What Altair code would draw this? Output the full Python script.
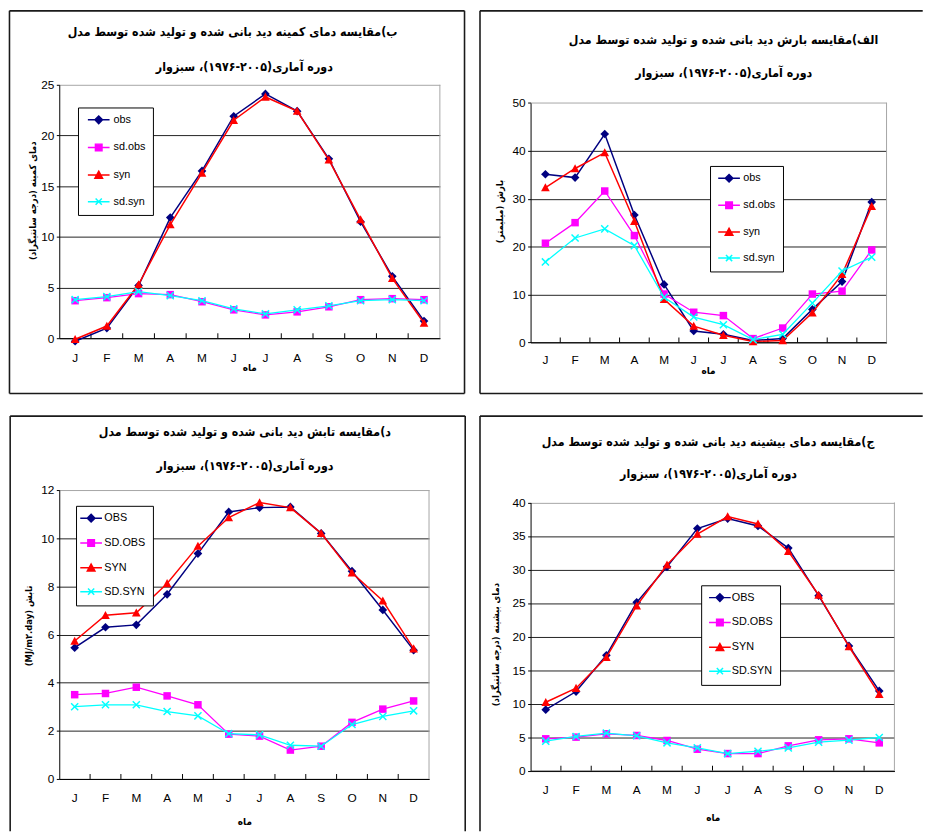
import altair as alt
import pandas as pd

# ---------------- data ----------------
MONTHS = list(range(1, 13))
MONTH_LABELS = ["J", "F", "M", "A", "M", "J", "J", "A", "S", "O", "N", "D"]

SERIES_LC = ["obs", "sd.obs", "syn", "sd.syn"]
SERIES_UC = ["OBS", "SD.OBS", "SYN", "SD.SYN"]

# ب) minimum temperature
TMIN_OBS = [-0.3, 1.0, 5.2, 11.9, 16.5, 21.9, 24.1, 22.4, 17.7, 11.5, 6.1, 1.7]
TMIN_SD_OBS = [3.7, 4.0, 4.4, 4.3, 3.6, 2.8, 2.3, 2.6, 3.1, 3.8, 3.9, 3.8]
TMIN_SYN = [-0.1, 1.2, 5.3, 11.2, 16.3, 21.5, 23.8, 22.4, 17.6, 11.7, 5.9, 1.5]
TMIN_SD_SYN = [3.8, 4.1, 4.6, 4.2, 3.7, 2.9, 2.4, 2.8, 3.2, 3.7, 3.8, 3.7]

# الف) precipitation
PREC_OBS = [35.1, 34.4, 43.5, 26.6, 12.1, 2.4, 1.7, 0.4, 0.8, 6.9, 12.7, 29.3]
PREC_SD_OBS = [20.7, 25.0, 31.6, 22.3, 10.1, 6.3, 5.6, 0.8, 3.0, 10.1, 10.7, 19.3]
PREC_SYN = [32.3, 36.3, 39.6, 25.3, 9.0, 3.4, 1.5, 0.2, 0.4, 6.2, 14.2, 28.4]
PREC_SD_SYN = [16.8, 21.8, 23.7, 20.2, 9.4, 5.3, 3.7, 0.6, 1.7, 8.2, 14.9, 17.8]

# د) radiation
RAD_OBS = [5.45, 6.3, 6.4, 7.67, 9.36, 11.09, 11.27, 11.3, 10.2, 8.63, 7.02, 5.35]
RAD_SD_OBS = [3.5, 3.55, 3.81, 3.45, 3.08, 1.86, 1.78, 1.2, 1.36, 2.35, 2.9, 3.24]
RAD_SYN = [5.73, 6.8, 6.9, 8.12, 9.67, 10.86, 11.48, 11.27, 10.2, 8.56, 7.4, 5.41]
RAD_SD_SYN = [3.0, 3.08, 3.08, 2.8, 2.62, 1.88, 1.83, 1.4, 1.36, 2.26, 2.6, 2.83]

# ج) maximum temperature
TMAX_OBS = [9.1, 11.8, 17.2, 25.1, 30.4, 36.1, 37.6, 36.5, 33.2, 26.1, 18.6, 11.9]
TMAX_SD_OBS = [4.75, 5.0, 5.5, 5.25, 4.5, 3.2, 2.55, 2.55, 3.7, 4.6, 4.75, 4.15]
TMAX_SYN = [10.2, 12.3, 16.9, 24.6, 30.7, 35.3, 37.9, 36.8, 32.7, 26.2, 18.5, 11.4]
TMAX_SD_SYN = [4.4, 5.1, 5.6, 5.2, 4.15, 3.4, 2.55, 2.9, 3.4, 4.25, 4.55, 4.95]

TITLE_B = ["ب)مقایسه دمای کمینه دید بانی شده و تولید شده توسط مدل", "دوره آماری(۲۰۰۵-۱۹۷۶)، سبزوار"]
TITLE_ALEF = ["الف)مقایسه بارش دید بانی شده و تولید شده توسط مدل", "دوره آماری(۲۰۰۵-۱۹۷۶)، سبزوار"]
TITLE_D = ["د)مقایسه تابش دید بانی شده و تولید شده توسط مدل", "دوره آماری(۲۰۰۵-۱۹۷۶)، سبزوار"]
TITLE_J = ["ج)مقایسه دمای بیشینه دید بانی شده و تولید شده توسط مدل", "دوره آماری(۲۰۰۵-۱۹۷۶)، سبزوار"]

YTITLE_B = "دمای کمینه (درجه سانتیگراد)\u200f"
YTITLE_ALEF = "بارش (میلیمتر)\u200f"
YTITLE_D = "(MJ/m۲.day) تابش"
YTITLE_J = "دمای بیشینه (درجه سانتیگراد)\u200f"
XTITLE = "ماه"

# ---------------- style ----------------
COLORS = ["#000080", "#FF00FF", "#FF0000", "#00FFFF"]
NARROW = "Liberation Sans Narrow, Arial Narrow, Liberation Sans, Arial, sans-serif"
FA = "DejaVu Sans Condensed, DejaVu Sans"
FRAME_C = "#1a1a1a"
BORDER_C = "#a6a6a6"


def diamond(cx, k=1.1):
    return f"M{cx:.3f},{-k}L{cx + k:.3f},0L{cx:.3f},{k}L{cx - k:.3f},0Z"


def square(cx, k=0.95):
    return f"M{cx - k:.3f},{-k}L{cx + k:.3f},{-k}L{cx + k:.3f},{k}L{cx - k:.3f},{k}Z"


def triangle(cx, k=1.1):
    return f"M{cx:.3f},{-k}L{cx + k:.3f},{k * 0.85:.3f}L{cx - k:.3f},{k * 0.85:.3f}Z"


def xmark(cx, k=0.9):
    return f"M{cx - k:.3f},{-k}L{cx + k:.3f},{k}M{cx - k:.3f},{k}L{cx + k:.3f},{-k}"


MARKERS = [diamond, square, triangle, xmark]


def legend_paths(shift_px, r=3.5, half_len_px=11.0):
    s = shift_px / r
    h = half_len_px / r
    line = f"M{s - h:.3f},0L{s + h:.3f},0"
    return [line + fn(s) for fn in MARKERS]


ONE = pd.DataFrame({"k": [0]})


def rule(x1, y1, x2, y2, color=FRAME_C, width=1.6):
    return alt.Chart(ONE).mark_rule(color=color, strokeWidth=width).encode(
        x=alt.value(x1), x2=alt.value(x2), y=alt.value(y1), y2=alt.value(y2)
    )


def make_panel(p):
    W, H, e = p["W"], p["H"], p["ext"]  # e: extra space above the plot inside the view
    labels = p["labels"]
    ymax, ystep = p["ymax"], p["ystep"]

    xscale = alt.Scale(type="band", domain=MONTHS, paddingInner=0, paddingOuter=0)
    xaxis = alt.Axis(
        title=XTITLE, titleFont=FA, titleFontWeight="bold", titleFontSize=10,
        titleX=p["xt"][0], titleY=p["xt"][1], titleBaseline="middle", titleAlign="center",
        titleColor="black",
        labelExpr=f"{MONTH_LABELS}[datum.value - 1]", labelAngle=0,
        labelFont=NARROW, labelFontSize=12, labelColor="black", labelPadding=p["xlp"],
        ticks=False, tickSize=0, domainColor="black", domainWidth=1, grid=False,
    )
    yaxis = alt.Axis(
        title=p["ytitle"], titleFont=FA, titleFontWeight="bold", titleFontSize=9.5,
        titleX=p["yt"][0], titleY=p["yt"][1] + e, titleBaseline="middle", titleAlign="center",
        titleAngle=270, titleColor="black",
        values=list(range(0, ymax + 1, ystep)),
        labelFont=NARROW, labelFontSize=12, labelColor="black", labelPadding=2.5,
        tickSize=3, tickColor="black", domainColor="black", domainWidth=1,
        grid=True, gridWidth=1,
        gridColor={"condition": {"test": f"datum.value == {ymax}", "value": BORDER_C}, "value": "#222222"},
    )
    X = alt.X("m:O", scale=xscale, axis=xaxis)
    Xb = alt.X("m:O", scale=xscale, axis=xaxis, bandPosition=0)
    Y = alt.Y("v:Q", scale=alt.Scale(domain=[0, ymax], nice=False, zero=True, range=[H + e, e]), axis=yaxis)

    layers = []
    for (x1, y1, x2, y2) in p["frame"]:
        layers.append(rule(x1, y1 + e, x2, y2 + e))
    # plot-area border on the right side
    layers.append(rule(W, e, W, H + e, color=BORDER_C, width=1))
    for line_text, (cx, cy) in zip(p["titles"], p["tpos"]):
        layers.append(
            alt.Chart(pd.DataFrame({"t": [line_text]})).mark_text(
                font=FA, fontWeight="bold", fontSize=12.5, color="black",
                align="center", baseline="middle",
            ).encode(x=alt.value(cx), y=alt.value(cy + e), text="t:N")
        )
    layers.append(
        alt.Chart(pd.DataFrame({"m": MONTHS[1:]})).mark_rule(color="black", strokeWidth=1).encode(
            x=Xb, y=alt.value(H + e), y2=alt.value(H + e - 5)
        )
    )
    for i, vals in enumerate(p["values"]):
        dfi = pd.DataFrame({"m": MONTHS, "v": vals, "s": labels[i]})
        layers.append(
            alt.Chart(dfi).mark_line(color=COLORS[i], strokeWidth=1.5 if i in (0, 2) else 1.3).encode(x=X, y=Y)
        )
        layers.append(
            alt.Chart(dfi).mark_point(
                shape=MARKERS[i](0), filled=(i != 3), size=64, color=COLORS[i],
                opacity=1, strokeWidth=1.5,
            ).encode(x=X, y=Y)
        )
    lx, ly = p["legend"]
    leg = alt.Legend(
        title=None, orient="none", legendX=lx, legendY=ly + e,
        fillColor="white", strokeColor="black", padding=7, rowPadding=p["rowpad"],
        labelFont=NARROW, labelFontSize=11, labelColor="black", labelOffset=p["loff"],
        symbolSize=49, symbolStrokeWidth=1.5, cornerRadius=0,
    )
    dfl = pd.DataFrame({"s": labels})
    layers.append(
        alt.Chart(dfl).mark_point(filled=True, clip=True, size=49, strokeWidth=1.5, opacity=1).encode(
            x=alt.value(-2000), y=alt.value(-2000),
            fill=alt.Fill("s:N", scale=alt.Scale(domain=labels, range=COLORS), legend=leg),
            stroke=alt.Stroke("s:N", scale=alt.Scale(domain=labels, range=COLORS), legend=leg),
            shape=alt.Shape("s:N", scale=alt.Scale(domain=labels, range=legend_paths(p["shift"])), legend=leg),
        )
    )
    return alt.layer(*layers).properties(width=W, height=H + e)


P_B = dict(
    values=[TMIN_OBS, TMIN_SD_OBS, TMIN_SYN, TMIN_SD_SYN], labels=SERIES_LC,
    ymax=25, ystep=5, W=386, H=257, ext=0, ytitle=YTITLE_B, titles=TITLE_B,
    tpos=[(175.7, -53.3), (187.7, -18.3)], yt=(-27.3, 117), xt=(192.7, 29.7), xlp=14.7,
    legend=(19, 23), rowpad=14, shift=8.5, loff=18,
    frame=[(-50.5, -75, 411, -75), (-50.5, 313, 411, 313), (-50.5, -75, -50.5, 313), (411, -75, 411, 313)],
)
P_ALEF = dict(
    values=[PREC_OBS, PREC_SD_OBS, PREC_SYN, PREC_SD_SYN], labels=SERIES_LC,
    ymax=50, ystep=10, W=361, H=243, ext=18.3, ytitle=YTITLE_ALEF, titles=TITLE_ALEF,
    tpos=[(195.7, -64), (195.9, -30)], yt=(-31.3, 109.7), xt=(180, 28.3), xlp=12.3,
    legend=(182, 64), rowpad=13.3, shift=6.8, loff=15.7,
    frame=[(-51.3, -93.3, 397.7, -93.3), (-51.3, 294.7, 397.7, 294.7), (-51.3, -93.3, -51.3, 294.7)],
)
P_D = dict(
    values=[RAD_OBS, RAD_SD_OBS, RAD_SYN, RAD_SD_SYN], labels=SERIES_UC,
    ymax=12, ystep=2, W=375, H=293, ext=0, ytitle=YTITLE_D, titles=TITLE_D,
    tpos=[(188.2, -59), (188.4, -24)], yt=(-31.6, 137.3), xt=(187.7, 43.7), xlp=13.7,
    legend=(17, 16), rowpad=11.2, shift=2.8, loff=10.7,
    frame=[(-49.8, -75, 411.7, -75), (-49.8, -75, -49.8, 346), (411.7, -75, 411.7, 346)],
)
P_J = dict(
    values=[TMAX_OBS, TMAX_SD_OBS, TMAX_SYN, TMAX_SD_SYN], labels=SERIES_UC,
    ymax=40, ystep=5, W=369, H=272, ext=12.6, ytitle=YTITLE_J, titles=TITLE_J,
    tpos=[(180, -61.6), (180.5, -29.3)], yt=(-35.3, 143.7), xt=(184.7, 47.3), xlp=14,
    legend=(173, 84), rowpad=11.2, shift=6.5, loff=13,
    frame=[(-51.3, -87.6, 397.7, -87.6), (-51.3, -87.6, -51.3, 333.4)],
)

IND = dict(fill="independent", stroke="independent", shape="independent")

chart = (
    alt.concat(
        make_panel(P_B), make_panel(P_ALEF), make_panel(P_D), make_panel(P_J),
        columns=2, align="each", spacing={"row": 21, "column": 12},
    )
    .resolve_scale(**IND)
    .resolve_legend(**IND)
    .properties(padding={"top": -4, "left": 0, "right": 0, "bottom": 0}, background="white")
    .configure_view(stroke="transparent", strokeWidth=0)
)

chart.save("out.html", embed_options={"renderer": "svg", "actions": False})
